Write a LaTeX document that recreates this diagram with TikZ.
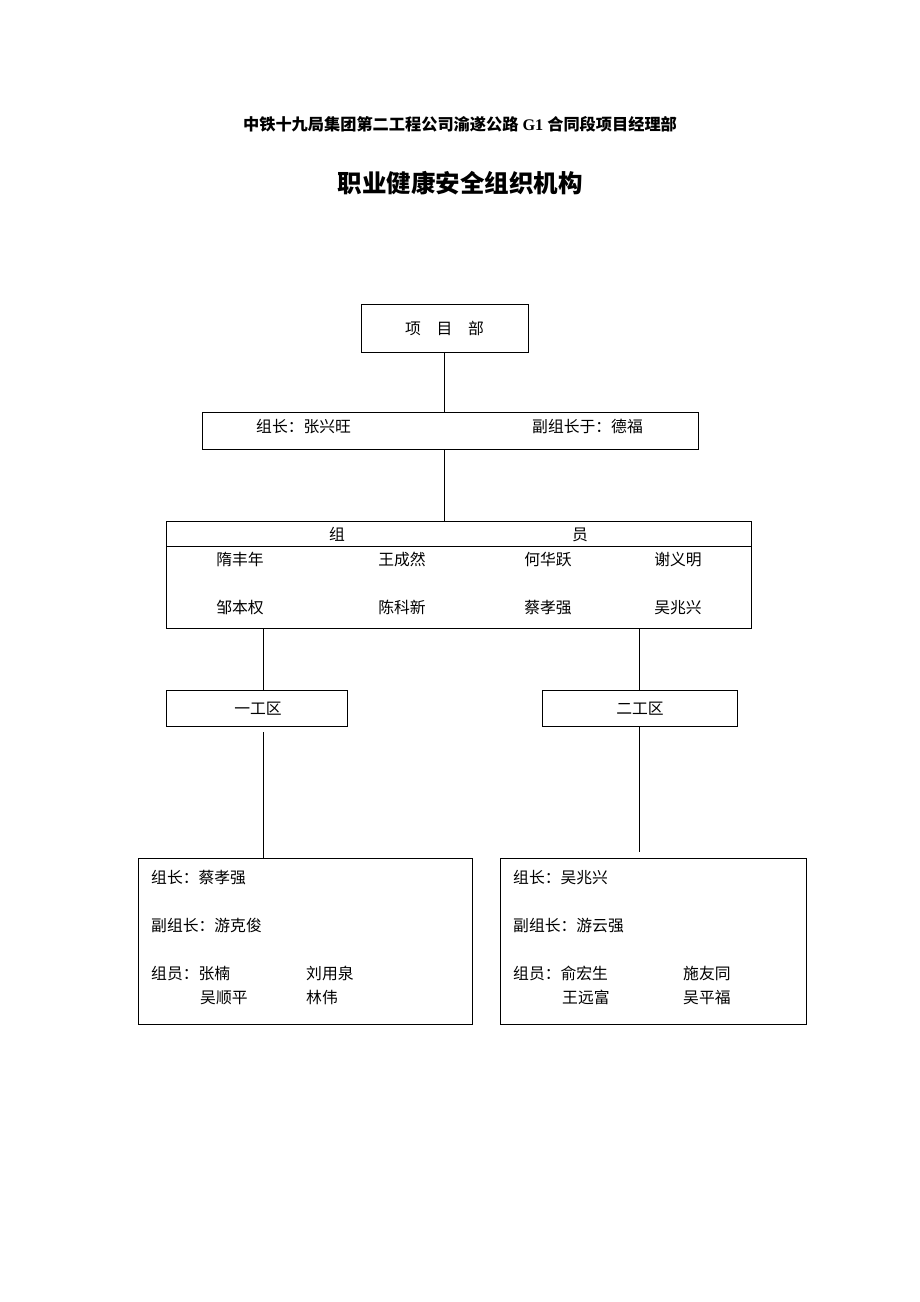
\documentclass[tikz,border=0pt]{standalone}
\usepackage{fontspec}
\setmainfont{Noto Sans CJK SC}
\newfontfamily\latinb{Liberation Serif}
\begin{document}
\begin{tikzpicture}[x=1pt,y=-1pt,
  box/.style={draw=black,line width=0.9pt,inner sep=0pt,fill=white},
  txt/.style={font=\fontsize{15.8}{17}\selectfont,inner sep=0pt,text height=0.86em,text depth=0.14em,yshift=-2.8pt},
  ltxt/.style={txt,anchor=west},
  conn/.style={draw=black,line width=0.9pt}]
\useasboundingbox[fill=white] (0,0) rectangle (920,1302);

\node[inner sep=0pt,text height=0.86em,text depth=0.14em,yshift=-3pt,font=\fontsize{16.2}{18}\selectfont\bfseries] (hdr) at (460,124) {中铁十九局集团第二工程公司渝遂公路{\latinb\bfseries\ G1 }合同段项目经理部};
\node[inner sep=0pt,text height=0.86em,text depth=0.14em,yshift=-4.5pt,font=\fontsize{24.5}{27}\selectfont\bfseries] (title) at (460,184) {职业健康安全组织机构};

% project dept
\node[box,minimum width=167,minimum height=48] (xmb) at (444.5,328) {};
\node[txt] (xmbt) at (444.5,328) {项\hspace{1em}目\hspace{1em}部};

% leader box
\node[box,minimum width=496,minimum height=37] (zz) at (450,430.5) {};
\node[ltxt] (zz1) at (256,426) {组长：张兴旺};
\node[ltxt] (zz2) at (532,426) {副组长于：德福};

% members box
\node[box,minimum width=585,minimum height=107] (zy) at (458.5,574.5) {};
\coordinate (zyl) at (166,546);
\coordinate (zyr) at (751,546);
\draw[conn] (zyl) -- (zyr);
\node[txt] (zyA) at (337,534) {组};
\node[txt] (zyB) at (580,534) {员};
\node[txt] (m1) at (240,559) {隋丰年};
\node[txt] (m2) at (402,559) {王成然};
\node[txt] (m3) at (548,559) {何华跃};
\node[txt] (m4) at (678,559) {谢义明};
\node[txt] (m5) at (240,607) {邹本权};
\node[txt] (m6) at (402,607) {陈科新};
\node[txt] (m7) at (548,607) {蔡孝强};
\node[txt] (m8) at (678,607) {吴兆兴};

% work areas
\node[box,minimum width=181,minimum height=36] (g1) at (256.5,708) {};
\node[txt] (g1t) at (258,708) {一工区};
\node[box,minimum width=195,minimum height=36] (g2) at (639.5,708) {};
\node[txt] (g2t) at (640,708) {二工区};

% bottom boxes
\node[box,minimum width=334,minimum height=166] (b1) at (305,941) {};
\node[ltxt] (b1a) at (151,877) {组长：蔡孝强};
\node[ltxt] (b1b) at (151,925) {副组长：游克俊};
\node[ltxt] (b1c) at (151,973) {组员：张楠};
\node[ltxt] (b1d) at (306,973) {刘用泉};
\node[ltxt] (b1e) at (200,997) {吴顺平};
\node[ltxt] (b1f) at (306,997) {林伟};

\node[box,minimum width=306,minimum height=166] (b2) at (653,941) {};
\node[ltxt] (b2a) at (513,877) {组长：吴兆兴};
\node[ltxt] (b2b) at (513,925) {副组长：游云强};
\node[ltxt] (b2c) at (513,973) {组员：俞宏生};
\node[ltxt] (b2d) at (683,973) {施友同};
\node[ltxt] (b2e) at (562,997) {王远富};
\node[ltxt] (b2f) at (683,997) {吴平福};

% connectors
\draw[conn] (xmb.south) -- (xmb.south |- zz.north);
\draw[conn] (xmb.south |- zz.south) -- (xmb.south |- zy.north);
\draw[conn] (263,628) coordinate (c1a) -- (263,690) coordinate (c1b);
\draw[conn] (639,628) coordinate (c2a) -- (639,690) coordinate (c2b);
\coordinate (c3a) at (263,732);
\draw[conn] (c3a) -- (c3a |- b1.north);
\coordinate (c4b) at (639,852);
\draw[conn] (c4b |- g2.south) -- (c4b);
\end{tikzpicture}
\end{document}
